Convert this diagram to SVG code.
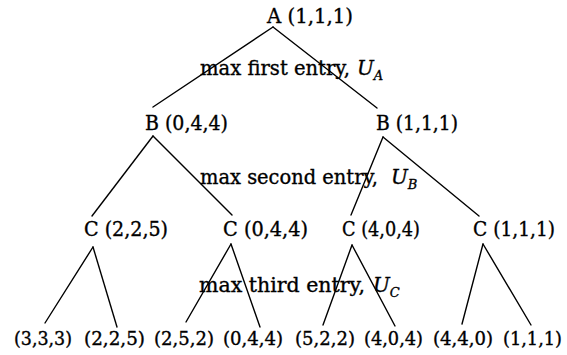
<svg xmlns="http://www.w3.org/2000/svg" width="567" height="355" viewBox="0 0 567 355">
<style>
text{font-family:"DejaVu Serif","Liberation Serif",serif;font-size:20px;fill:#000;stroke:#000;stroke-width:0.35}
.it{font-style:italic}
.sub{font-size:13px;font-style:italic}
.leaf{font-size:18px}
.edge{stroke:#000;stroke-width:1.4;fill:none;stroke-linecap:round}
</style>
<rect width="567" height="355" fill="#fff"/>
<g id="connectors">
<line class="edge" x1="273" y1="27" x2="153" y2="107"/>
<line class="edge" x1="273" y1="27" x2="377" y2="108"/>
<line class="edge" x1="153" y1="136" x2="92" y2="216"/>
<line class="edge" x1="153" y1="136" x2="232" y2="215"/>
<line class="edge" x1="383" y1="137" x2="351" y2="215"/>
<line class="edge" x1="383" y1="137" x2="479" y2="216"/>
<line class="edge" x1="93" y1="247" x2="45" y2="323"/>
<line class="edge" x1="93" y1="247" x2="117" y2="327"/>
<line class="edge" x1="231" y1="244" x2="186" y2="322"/>
<line class="edge" x1="231" y1="244" x2="260" y2="327"/>
<line class="edge" x1="352" y1="245" x2="323" y2="325"/>
<line class="edge" x1="352" y1="245" x2="395" y2="326"/>
<line class="edge" x1="483" y1="244" x2="462" y2="324"/>
<line class="edge" x1="483" y1="244" x2="531" y2="325"/>
</g>
<g id="labels">
<text x="200" y="75"><tspan textLength="150" lengthAdjust="spacingAndGlyphs">max first entry,</tspan><tspan class="it" x="357">U</tspan><tspan class="sub" dy="5">A</tspan></text>
<text x="200" y="184"><tspan textLength="178" lengthAdjust="spacingAndGlyphs">max second entry,</tspan><tspan class="it" x="391">U</tspan><tspan class="sub" dy="5">B</tspan></text>
<text x="199" y="292"><tspan textLength="166" lengthAdjust="spacingAndGlyphs">max third entry,</tspan><tspan class="it" x="373">U</tspan><tspan class="sub" dy="5">C</tspan></text>
</g>
<g id="nA"><text x="267" y="23" textLength="86" lengthAdjust="spacingAndGlyphs">A (1,1,1)</text></g>
<g id="nB1"><text x="145" y="130" textLength="83" lengthAdjust="spacingAndGlyphs">B (0,4,4)</text></g>
<g id="nB2"><text x="376" y="130" textLength="82" lengthAdjust="spacingAndGlyphs">B (1,1,1)</text></g>
<g id="nC1"><text x="84" y="236" textLength="84" lengthAdjust="spacingAndGlyphs">C (2,2,5)</text></g>
<g id="nC2"><text x="223" y="236" textLength="85" lengthAdjust="spacingAndGlyphs">C (0,4,4)</text></g>
<g id="nC3"><text x="342" y="236" textLength="78" lengthAdjust="spacingAndGlyphs">C (4,0,4)</text></g>
<g id="nC4"><text x="473" y="236" textLength="82" lengthAdjust="spacingAndGlyphs">C (1,1,1)</text></g>
<g id="l1"><text class="leaf" x="14" y="345" textLength="58" lengthAdjust="spacingAndGlyphs">(3,3,3)</text></g>
<g id="l2"><text class="leaf" x="84" y="345" textLength="61" lengthAdjust="spacingAndGlyphs">(2,2,5)</text></g>
<g id="l3"><text class="leaf" x="154" y="345" textLength="60" lengthAdjust="spacingAndGlyphs">(2,5,2)</text></g>
<g id="l4"><text class="leaf" x="223" y="345" textLength="60" lengthAdjust="spacingAndGlyphs">(0,4,4)</text></g>
<g id="l5"><text class="leaf" x="295" y="345" textLength="60" lengthAdjust="spacingAndGlyphs">(5,2,2)</text></g>
<g id="l6"><text class="leaf" x="364" y="345" textLength="59" lengthAdjust="spacingAndGlyphs">(4,0,4)</text></g>
<g id="l7"><text class="leaf" x="433" y="345" textLength="60" lengthAdjust="spacingAndGlyphs">(4,4,0)</text></g>
<g id="l8"><text class="leaf" x="503" y="345" textLength="59" lengthAdjust="spacingAndGlyphs">(1,1,1)</text></g>
</svg>
